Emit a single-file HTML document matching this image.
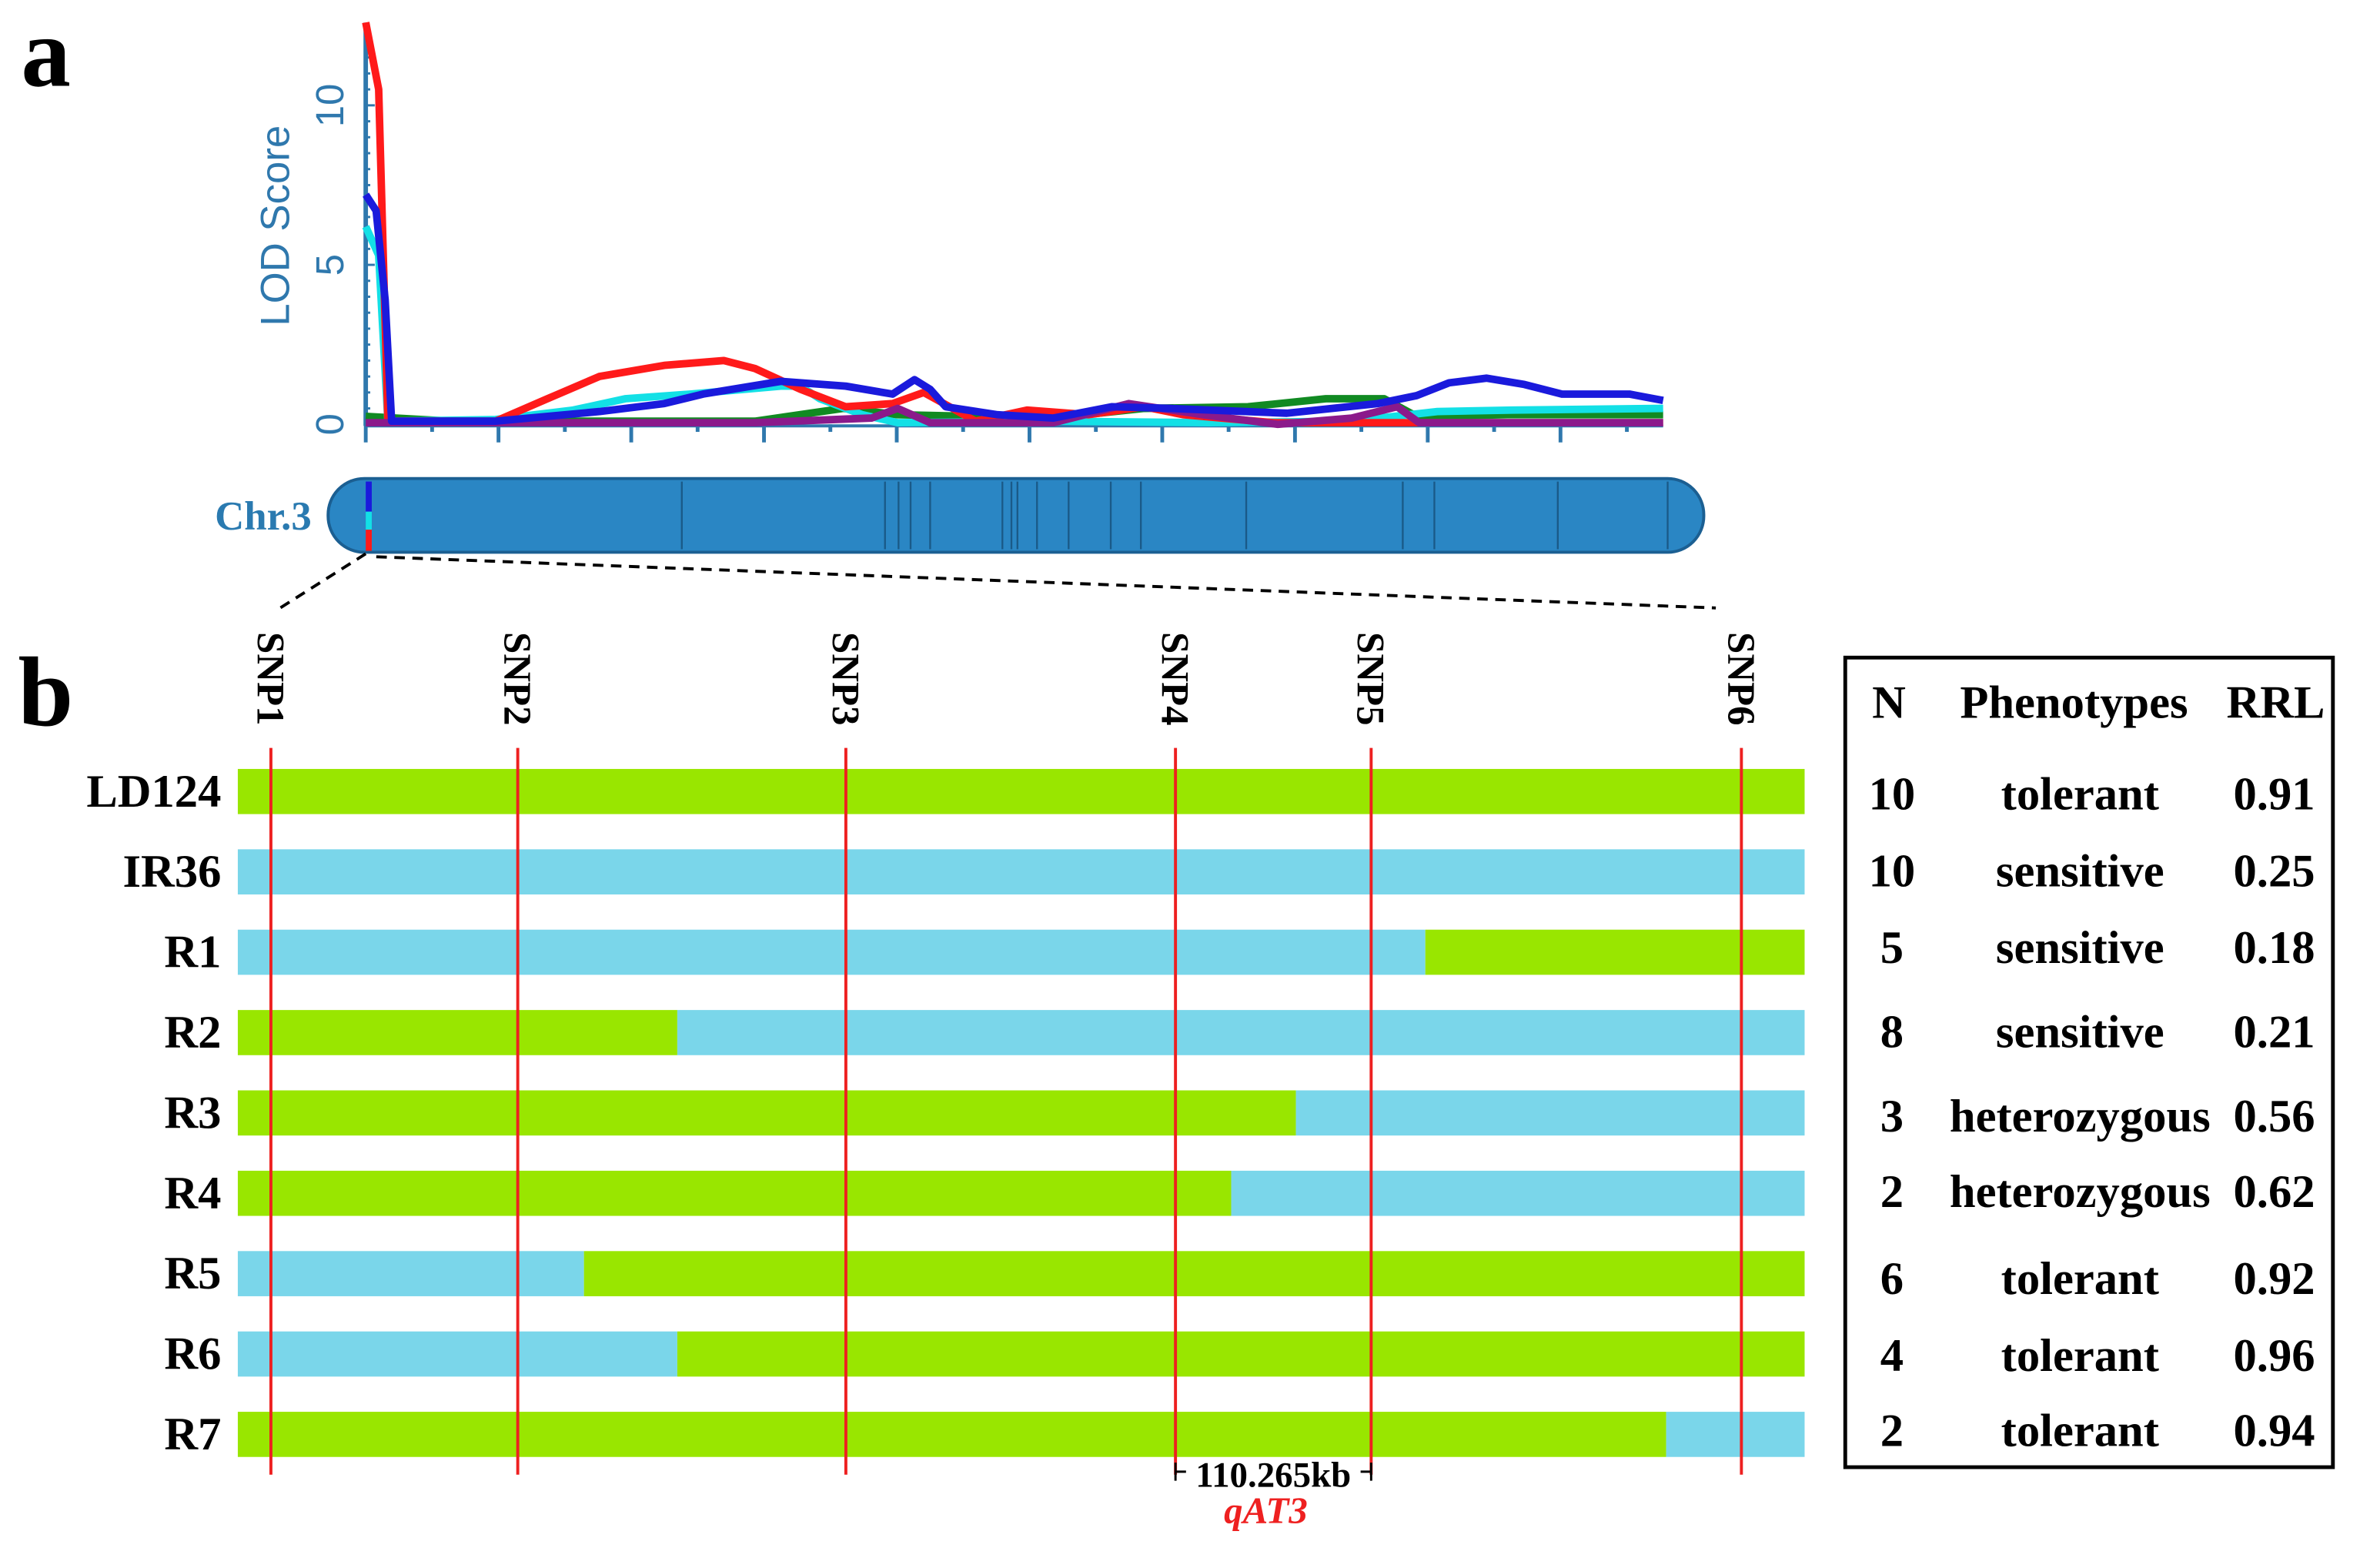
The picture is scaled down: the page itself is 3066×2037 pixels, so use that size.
<!DOCTYPE html>
<html><head><meta charset="utf-8"><style>
html,body{margin:0;padding:0;background:#fff;}
svg{display:block;}
.serif{font-family:"Liberation Serif",serif;font-weight:bold;}
</style></head><body>
<svg id="fig" width="3066" height="2037" viewBox="0 0 1568 1042" preserveAspectRatio="none" xmlns="http://www.w3.org/2000/svg">
<text x="14" y="57" class="serif" font-size="66" fill="#000">a</text>
<g id="plotA"></g>
<g id="chrom"></g>
<text x="12" y="482" class="serif" font-size="66" fill="#000">b</text>
<g id="plotB"></g>
<g id="table"></g>
</svg>
<script>
const NS="http://www.w3.org/2000/svg";
function mk(parent,tag,attrs,text){const e=document.createElementNS(NS,tag);for(const k in attrs)e.setAttribute(k,attrs[k]);if(text!==undefined)e.textContent=text;parent.appendChild(e);return e;}

// ---- Panel a data (position 0..100, LOD) ----
const yTicks=[0,5,10];
const redPos=[0,1,1.7,10,14,18,23,27.6,30,33.5,37,40.6,43,45,47,51,55.7,60,63,70,100];
const redLod=[12.6,10.5,0.1,0.1,0.8,1.5,1.85,2.0,1.75,1.1,0.55,0.65,1.0,0.55,0.1,0.45,0.3,0.55,0.3,0.05,0.05];
const bluePos=[0,0.8,1.5,2,10,18,23,26,32,37,40.6,42.3,43.5,44.7,48.7,53,57.5,62,71,78,81,83.5,86.4,89.3,92.2,97.4,100];
const blueLod=[7.2,6.7,3.9,0.1,0.1,0.4,0.65,0.95,1.35,1.2,0.95,1.4,1.1,0.55,0.3,0.2,0.55,0.5,0.35,0.65,0.9,1.3,1.45,1.25,0.95,0.95,0.75];
const cyanPos=[0,1,1.7,10,16,20,25,32,33.5,35,38.3,41,53,65,76,82.6,88.4,100];
const cyanLod=[6.2,5.3,0.1,0.15,0.45,0.8,0.95,1.2,1.2,0.8,0.3,0.05,0.1,0.05,0.1,0.4,0.45,0.5];
const greenPos=[0,6.6,30,36.8,41,53,60,68,74,78.5,81,88,100];
const greenLod=[0.25,0.1,0.1,0.5,0.3,0.2,0.5,0.55,0.8,0.8,0.25,0.3,0.3];
const purplePos=[0,30,39,41,43.5,53,58.8,64.5,70.3,76,79.5,81.2,100];
const purpleLod=[0.05,0.05,0.2,0.5,0.05,0.05,0.65,0.3,0.0,0.2,0.55,0.05,0.05];

const X0=243,X1=1105,Y0=282,PX=21.2;
const xs=p=>X0+p*(X1-X0)/100;
const ys=v=>Y0-v*PX;
const A=document.getElementById('plotA');
const axisC="#2f78ad";
let yax=mk(A,'line',{x1:X0,y1:15,x2:X0,y2:Y0+1,stroke:axisC,'stroke-width':3});


for(let i=0;i<=24;i++){mk(A,'line',{x1:X0,y1:ys(i*0.5),x2:X0+(i%10==0?6:3),y2:ys(i*0.5),stroke:axisC,'stroke-width':1.5});}
yTicks.forEach(t=>{const tl=mk(A,'text',{x:0,y:0,transform:`translate(228,${ys(t)}) rotate(-90)`,'text-anchor':'middle','font-family':'"Liberation Sans",sans-serif','font-size':26,fill:axisC},String(t));

});
const yt=mk(A,'text',{x:0,y:0,transform:'translate(192,150) rotate(-90)','text-anchor':'middle','font-family':'"Liberation Sans",sans-serif','font-size':27,fill:axisC},'LOD Score');


let xax=mk(A,'line',{x1:X0,y1:Y0+1,x2:X1,y2:Y0+1,stroke:axisC,'stroke-width':2});


for(let i=0;i<=19;i++){const x=X0+i*44.1;if(x>X1)break;mk(A,'line',{x1:x,y1:Y0,x2:x,y2:Y0+(i%2==0?12:5),stroke:axisC,'stroke-width':2.5});}
function series(pos,lod,color,name,w){const d=pos.map((p,i)=>(i?'L':'M')+xs(p).toFixed(1)+','+ys(lod[i]).toFixed(1)).join(' ');
const p=mk(A,'path',{d:d,fill:'none',stroke:color,'stroke-width':w,'stroke-linejoin':'round'});

}
series(greenPos,greenLod,'#118a22','lod-line-green',5);
series(cyanPos,cyanLod,'#13e0e6','lod-line-cyan',5);
series(redPos,redLod,'#ff1a1a','lod-line-red',5);
series(purplePos,purpleLod,'#8b1a8b','lod-line-purple',5);
series(bluePos,blueLod,'#1a1adc','lod-line-blue',5);

// ---- chromosome ----
const bands=[453,588,597,605,618,666,672,676,689,710,738,758,828,932,953,1035,1108];
const C=document.getElementById('chrom');
mk(C,'rect',{x:218,y:318,width:914,height:49,rx:24,fill:'#2a86c4',stroke:'#1b5f92','stroke-width':2});
bands.forEach(b=>mk(C,'line',{x1:b,y1:320,x2:b,y2:365,stroke:'#1a5a88','stroke-width':1.2}));
mk(C,'rect',{x:243,y:320,width:4,height:20,fill:'#1a1adc'});
mk(C,'rect',{x:243,y:340,width:4,height:12,fill:'#13e0e6'});
mk(C,'rect',{x:243,y:352,width:4,height:14,fill:'#ff1a1a'});
const cl=mk(C,'text',{x:207,y:352,'text-anchor':'end','font-family':'"Liberation Serif",serif','font-weight':'bold','font-size':27,fill:'#2a7ab0'},'Chr.3');


mk(C,'line',{x1:243,y1:368,x2:183,y2:406,stroke:'#000','stroke-width':2,'stroke-dasharray':'7,5'});
mk(C,'line',{x1:250,y1:370,x2:1140,y2:404,stroke:'#000','stroke-width':2,'stroke-dasharray':'7,5'});

// ---- Panel b data ----
const snpNames=['SNP1','SNP2','SNP3','SNP4','SNP5','SNP6'];
const snpPos=[180,344,562,781,911,1157];
const rowNames=['LD124','IR36','R1','R2','R3','R4','R5','R6','R7'];
const rowFirst=['G','B','B','G','G','G','B','B','G'];
const rowSwitch=[1199,1199,947,450,861,818,388,450,1107];
const B=document.getElementById('plotB');
const GREEN='#99e600',BLUE='#7ad6ea';
rowNames.forEach((n,i)=>{const cy=526+i*53.4;
const a=rowFirst[i]=='G'?GREEN:BLUE,b=rowFirst[i]=='G'?BLUE:GREEN;
const r1=mk(B,'rect',{x:158,y:cy-15,width:rowSwitch[i]-158,height:30,fill:a});


if(rowSwitch[i]<1199){const r2=mk(B,'rect',{x:rowSwitch[i],y:cy-15,width:1199-rowSwitch[i],height:30,fill:b});

}
const t=mk(B,'text',{x:147,y:cy+10,'text-anchor':'end','font-family':'"Liberation Serif",serif','font-weight':'bold','font-size':31,fill:'#000'},n);

});
snpNames.forEach((s,i)=>{const x=snpPos[i];
const l=mk(B,'line',{x1:x,y1:497,x2:x,y2:980,stroke:'#ee2020','stroke-width':2});


const t=mk(B,'text',{x:0,y:0,transform:`translate(${x-9},420) rotate(90)`,'font-family':'"Liberation Serif",serif','font-weight':'bold','font-size':26,fill:'#000'},s);

});
mk(B,'path',{d:'M781,972 V984 M781,978 H788 M904,978 H911 M911,972 V984',stroke:'#000','stroke-width':1.5,fill:'none'});
const kb=mk(B,'text',{x:846,y:988,'text-anchor':'middle','font-family':'"Liberation Serif",serif','font-weight':'bold','font-size':24,fill:'#000'},'110.265kb');


const q=mk(B,'text',{x:841,y:1012,'text-anchor':'middle','font-family':'"Liberation Serif",serif','font-weight':'bold','font-style':'italic','font-size':25,fill:'#ee2020'},'qAT3');



// ---- table ----
const tN=['10','10','5','8','3','2','6','4','2'];
const tPh=['tolerant','sensitive','sensitive','sensitive','heterozygous','heterozygous','tolerant','tolerant','tolerant'];
const tRRL=['0.91','0.25','0.18','0.21','0.56','0.62','0.92','0.96','0.94'];
const tY=[528,579,630,686,742,792,850,901,951];
const T=document.getElementById('table');
mk(T,'rect',{x:1226,y:437,width:324,height:538,fill:'none',stroke:'#000','stroke-width':2.5});
const hf={'font-family':'"Liberation Serif",serif','font-weight':'bold','font-size':31,fill:'#000','text-anchor':'middle'};
[['N',1255],['Phenotypes',1378],['RRL',1512]].forEach(h=>{const t=mk(T,'text',Object.assign({x:h[1],y:477},hf),h[0]);

});
tY.forEach((y,i)=>{
const a=mk(T,'text',Object.assign({x:1257,y:y+10},hf),tN[i]);


const b=mk(T,'text',Object.assign({x:1382,y:y+10},hf),tPh[i]);


const c=mk(T,'text',Object.assign({x:1511,y:y+10},hf),tRRL[i]);

});
</script>
</body></html>
